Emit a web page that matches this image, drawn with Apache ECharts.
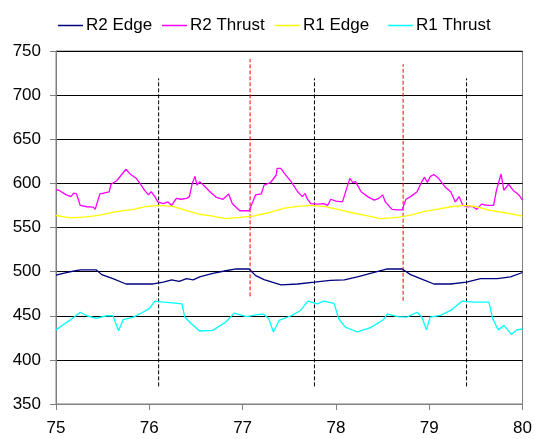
<!DOCTYPE html>
<html>
<head>
<meta charset="utf-8">
<script src="https://cdn.jsdelivr.net/npm/echarts@6/dist/echarts.min.js"></script>
<style>
  html, body { margin: 0; padding: 0; background: #fff; }
  #chart { width: 535px; height: 439px; }
</style>
</head>
<body>
<div id="chart"></div>
<script>
const seriesNames = ['R2 Edge', 'R2 Thrust', 'R1 Edge', 'R1 Thrust']
const seriesColors = ['#000080', '#ff00ff', '#ffff00', '#00ffff']

const xTicks = [75, 76, 77, 78, 79, 80]
const yTicks = [350, 400, 450, 500, 550, 600, 650, 700, 750]

// [x, y] readings
const r2Edge = [
  [75.0, 496], [75.11, 499], [75.26, 502], [75.43, 502], [75.49, 496.6], [75.61, 492],
  [75.75, 486], [75.9, 486], [76.04, 486], [76.15, 488], [76.24, 490.6], [76.32, 489],
  [76.4, 492], [76.47, 490.6], [76.54, 494], [76.68, 498], [76.82, 501], [76.93, 503],
  [77.07, 503], [77.14, 495.5], [77.23, 491], [77.41, 485], [77.59, 486], [77.77, 488],
  [77.94, 490], [78.09, 490.6], [78.23, 494], [78.37, 498], [78.55, 503], [78.71, 503],
  [78.8, 496.6], [78.94, 490.6], [79.05, 486], [79.23, 486], [79.4, 488], [79.55, 492],
  [79.73, 492], [79.87, 494], [80.0, 499]
]
const r2Thrust = [
  [75.0, 593], [75.04, 591.7], [75.11, 587], [75.16, 585], [75.19, 589], [75.22, 588],
  [75.26, 575], [75.33, 573.5], [75.4, 573], [75.42, 570.5], [75.47, 588], [75.51, 589],
  [75.57, 590.5], [75.59, 599], [75.65, 603], [75.7, 609.5], [75.75, 616], [75.79, 611],
  [75.86, 605.7], [75.9, 600], [75.95, 592], [75.99, 587], [76.02, 590.5], [76.06, 585],
  [76.09, 579], [76.15, 577], [76.2, 579], [76.24, 575], [76.29, 583], [76.34, 582],
  [76.4, 583], [76.43, 585], [76.46, 600], [76.49, 608], [76.51, 598], [76.54, 602],
  [76.56, 603], [76.59, 597], [76.65, 590.5], [76.72, 584], [76.79, 582], [76.85, 588],
  [76.89, 577], [76.97, 569], [77.07, 569], [77.1, 577], [77.14, 587], [77.2, 588],
  [77.23, 598], [77.3, 601], [77.36, 609.5], [77.37, 617], [77.41, 617], [77.45, 611],
  [77.52, 602], [77.59, 590.5], [77.64, 585], [77.67, 588.6], [77.69, 583], [77.73, 577],
  [77.8, 576.5], [77.87, 577], [77.91, 575], [77.945, 582], [78.0, 580], [78.07, 579],
  [78.12, 596], [78.15, 605.7], [78.18, 601], [78.21, 602], [78.27, 590.5], [78.34, 585],
  [78.41, 581], [78.46, 583], [78.5, 587], [78.53, 579], [78.6, 570.5], [78.66, 570],
  [78.71, 570], [78.75, 582], [78.8, 585], [78.87, 590.5], [78.92, 602], [78.95, 607],
  [78.98, 601], [79.01, 607.6], [79.05, 610], [79.1, 605.7], [79.17, 596], [79.23, 590.5],
  [79.28, 579], [79.32, 585], [79.36, 575], [79.4, 573.5], [79.46, 574], [79.51, 570.5],
  [79.56, 576.5], [79.62, 575], [79.69, 575], [79.72, 592], [79.77, 610.6], [79.8, 592],
  [79.85, 599], [79.9, 592], [79.96, 587], [80.0, 581]
]
const r1Edge = [
  [75.0, 563.6], [75.15, 561], [75.33, 562], [75.47, 564], [75.65, 568], [75.83, 570.5],
  [75.97, 574], [76.11, 575], [76.25, 574], [76.4, 569], [76.54, 565], [76.68, 563],
  [76.82, 560], [76.97, 561.5], [77.11, 563], [77.29, 567], [77.45, 572], [77.59, 574],
  [77.73, 575], [77.87, 574], [78.02, 570.5], [78.16, 567], [78.3, 564], [78.48, 560],
  [78.66, 561.5], [78.8, 564], [78.94, 568], [79.08, 570.5], [79.23, 573.5], [79.37, 575],
  [79.51, 573.5], [79.65, 569.5], [79.8, 567], [80.0, 563]
]
const r1Thrust = [
  [75.0, 434], [75.08, 440], [75.15, 445], [75.26, 454], [75.33, 450], [75.43, 447],
  [75.54, 450], [75.61, 450], [75.67, 433], [75.72, 445.5], [75.83, 448.5], [75.93, 454],
  [76.0, 458], [76.06, 466.5], [76.15, 465.4], [76.25, 464.7], [76.35, 463.5], [76.38, 448.5],
  [76.45, 441], [76.54, 432.7], [76.68, 433.4], [76.82, 443], [76.91, 453], [77.04, 449],
  [77.18, 451.5], [77.23, 451.5], [77.28, 446.6], [77.33, 431.6], [77.39, 444.7], [77.52, 450],
  [77.62, 456], [77.7, 466.5], [77.8, 463.5], [77.87, 466.5], [77.98, 464], [78.03, 446.6],
  [78.1, 437], [78.23, 431.6], [78.37, 436.5], [78.51, 445.5], [78.55, 452], [78.66, 449],
  [78.76, 448.5], [78.87, 454], [78.92, 448.5], [78.97, 434], [79.01, 448.5], [79.12, 450.5],
  [79.23, 456], [79.35, 466.5], [79.48, 465.4], [79.64, 465.4], [79.68, 446.6], [79.74, 434],
  [79.8, 439], [79.88, 428.8], [79.94, 434], [80.0, 435]
]

// vertical dashed markers
const blackDashX = [76.1, 77.77, 79.4]
const blackDashBottom = [370, 370, 370]
const blackDashTop = [719, 719, 719]
const redDashX = [77.08, 78.72]
const redDashBottom = [472, 467]
const redDashTop = [741, 735]

const lineData = [r2Edge, r2Thrust, r1Edge, r1Thrust]
const legendLeft = [53, 157, 270, 383]

const chart = echarts.init(document.getElementById('chart'))

const dashSeries = []
blackDashX.forEach((x, i) => {
  dashSeries.push({
    type: 'line', silent: true, symbol: 'none',
    data: [[x, blackDashBottom[i]], [x, blackDashTop[i]]],
    lineStyle: { color: '#000', width: 1, type: [4, 2] },
    z: 1,
  })
})
redDashX.forEach((x, i) => {
  dashSeries.push({
    type: 'line', silent: true, symbol: 'none',
    data: [[x, redDashBottom[i]], [x, redDashTop[i]]],
    lineStyle: { color: '#ff0000', width: 1, type: [4, 2] },
    z: 1,
  })
})

chart.setOption({
  animation: false,
  color: seriesColors,
  textStyle: { fontFamily: 'Liberation Sans, Arial, sans-serif' },
  legend: seriesNames.map((name, i) => ({
    data: [{
      name,
      icon: 'rect',
      itemStyle: { color: seriesColors[i], borderWidth: 0 },
    }],
    left: legendLeft[i],
    top: 12,
    itemWidth: 25,
    itemHeight: 1.5,
    textStyle: { color: '#000', fontSize: 17, padding: [0, 0, 0, -2] },
  })),
  grid: { left: 56, right: 11, top: 51, bottom: 35, show: true, borderColor: '#808080', borderWidth: 1 },
  xAxis: {
    type: 'value',
    min: xTicks[0],
    max: xTicks[xTicks.length - 1],
    interval: 1,
    axisLine: { lineStyle: { color: '#808080' } },
    axisTick: { show: true, length: 6, lineStyle: { color: '#808080' } },
    axisLabel: { color: '#000', fontSize: 17, margin: 16 },
    splitLine: { show: false },
  },
  yAxis: {
    type: 'value',
    min: yTicks[0],
    max: yTicks[yTicks.length - 1],
    interval: 50,
    axisLine: { show: true, lineStyle: { color: '#808080' } },
    axisTick: { show: true, length: 6, lineStyle: { color: '#808080' } },
    axisLabel: { color: '#000', fontSize: 17, margin: 15 },
    splitLine: { show: true, lineStyle: { color: '#000', width: 1 } },
  },
  series: [
    ...dashSeries,
    ...seriesNames.map((name, i) => ({
      name,
      type: 'line',
      data: lineData[i],
      symbol: 'none',
      color: seriesColors[i],
      lineStyle: { color: seriesColors[i], width: 1.3 },
      itemStyle: { color: seriesColors[i] },
      z: 3,
    })),
  ],
})
</script>
</body>
</html>
